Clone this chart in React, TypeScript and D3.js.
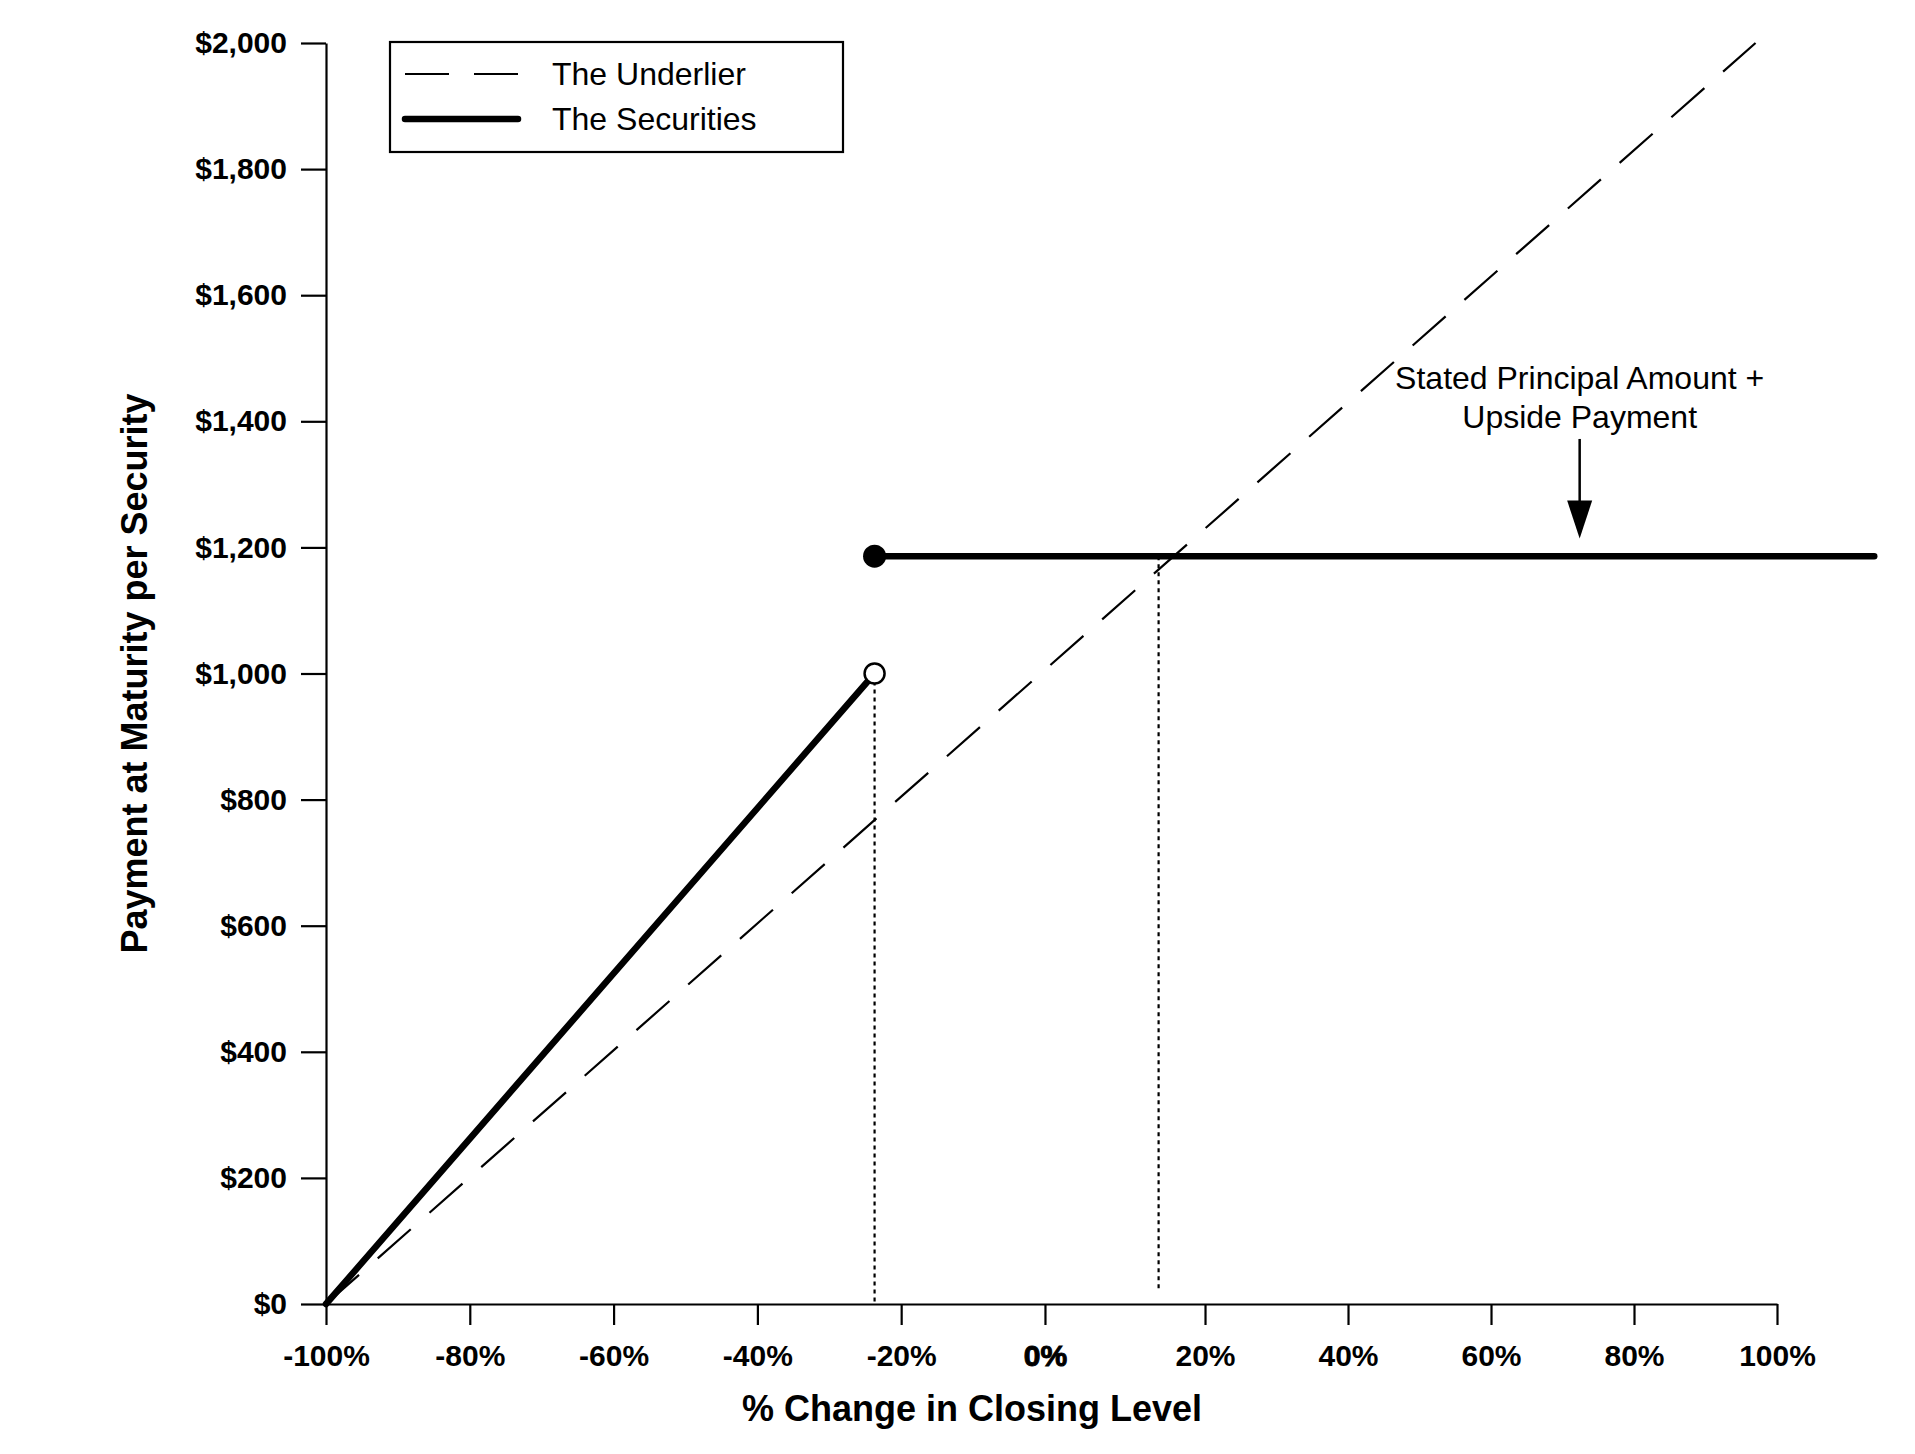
import { useEffect, useRef } from 'react';
import * as d3 from 'd3';

// tick values
const X_TICKS = [-100, -80, -60, -40, -20, 0, 20, 40, 60, 80, 100];
const Y_TICKS = [0, 200, 400, 600, 800, 1000, 1200, 1400, 1600, 1800, 2000];

// the axis in the source is not evenly spaced: the 0% -> 20% step is wider
const X_BREAKS = [-100, 0, 20, 100];
const X_BREAK_FRAC = [0, 0.4955, 0.6058, 1];

// series (x in %, y in $)
const UNDERLIER_X = [-100, 97];
const UNDERLIER_Y = [0, 2000];
const SEC_LOW_X = [-100, -23.7];
const SEC_LOW_Y = [0, 1000];
const SEC_HIGH_X = [-23.7, 113.6];
const SEC_HIGH_Y = [1186, 1186];

// dotted guides
const GUIDE_X = [-23.7, 14.2];
const GUIDE_TOP = [1000, 1186];
const GUIDE_BOTTOM = [0, 20];

const LEGEND_LABELS = ['The Underlier', 'The Securities'];
const NOTE_LINES = ['Stated Principal Amount +', 'Upside Payment'];
const NOTE_X = 72.4;
const NOTE_Y = [1451, 1389];
const NOTE_ARROW = [1372, 1214];

const FONT = '"Liberation Sans", Arial, Helvetica, sans-serif';

export default function App() {
  const svgRef = useRef<SVGSVGElement>(null);

  useEffect(() => {
    document.body.style.margin = '0';
    if (!svgRef.current) return;

    const W = 1915, H = 1454;
    const L = 326, R = 1777, T = 43, B = 1304;
    const svg = d3.select(svgRef.current);
    svg.selectAll('*').remove();
    svg.attr('viewBox', `0 0 ${W} ${H}`).attr('width', W).attr('height', H);

    const x = d3.scaleLinear()
      .domain(X_BREAKS)
      .range(X_BREAK_FRAC.map(f => L + f * (R - L)));
    const y = d3.scaleLinear().domain([0, 2000]).range([B, T]);

    svg.append('rect').attr('width', W).attr('height', H).attr('fill', '#fff');

    // axes
    const yAxis = svg.append('g')
      .attr('transform', `translate(${L},0)`)
      .call(d3.axisLeft(y).tickValues(Y_TICKS).tickSize(25).tickSizeOuter(0).tickPadding(14)
        .tickFormat(d => '$' + d3.format(',')(d as number)));
    const xAxis = svg.append('g')
      .attr('transform', `translate(0,${B})`)
      .call(d3.axisBottom(x).tickValues(X_TICKS).tickSize(21).tickSizeOuter(0).tickPadding(20)
        .tickFormat(d => `${d}%`));

    [yAxis, xAxis].forEach(a => {
      a.selectAll('path, line').attr('stroke', '#000').attr('stroke-width', 2.2);
      a.selectAll('text')
        .attr('fill', '#000')
        .attr('font-family', FONT)
        .attr('font-weight', 700)
        .attr('font-size', 30);
    });
    xAxis.selectAll<SVGTextElement, number>('text')
      .filter(d => d === 0)
      .attr('stroke', '#000').attr('stroke-width', 1);

    // axis titles
    svg.append('text')
      .attr('x', 972).attr('y', 1421)
      .attr('text-anchor', 'middle')
      .attr('font-family', FONT).attr('font-weight', 700).attr('font-size', 36)
      .text('% Change in Closing Level');
    svg.append('text')
      .attr('transform', `translate(134,${(T + B) / 2}) rotate(-90)`)
      .attr('text-anchor', 'middle').attr('dy', '0.36em')
      .attr('font-family', FONT).attr('font-weight', 700).attr('font-size', 36)
      .text('Payment at Maturity per Security');

    const line = d3.line<[number, number]>().x(d => x(d[0])).y(d => y(d[1]));
    const pts = (xs: number[], ys: number[]) => xs.map((v, i) => [v, ys[i]] as [number, number]);

    // dotted guides
    GUIDE_X.forEach((gx, i) => {
      svg.append('path')
        .attr('d', line([[gx, GUIDE_TOP[i]], [gx, GUIDE_BOTTOM[i]]]))
        .attr('fill', 'none').attr('stroke', '#000')
        .attr('stroke-width', 2.2).attr('stroke-dasharray', '4 4');
    });

    // underlier
    svg.append('path')
      .attr('d', line(pts(UNDERLIER_X, UNDERLIER_Y)))
      .attr('fill', 'none').attr('stroke', '#000')
      .attr('stroke-width', 2.2).attr('stroke-dasharray', '44 25');

    // securities
    [pts(SEC_LOW_X, SEC_LOW_Y), pts(SEC_HIGH_X, SEC_HIGH_Y)].forEach(p => {
      svg.append('path')
        .attr('d', line(p))
        .attr('fill', 'none').attr('stroke', '#000')
        .attr('stroke-width', 6.5).attr('stroke-linecap', 'round');
    });
    svg.append('circle')
      .attr('cx', x(SEC_HIGH_X[0])).attr('cy', y(SEC_HIGH_Y[0])).attr('r', 11.5)
      .attr('fill', '#000');
    svg.append('circle')
      .attr('cx', x(SEC_LOW_X[1])).attr('cy', y(SEC_LOW_Y[1])).attr('r', 10)
      .attr('fill', '#fff').attr('stroke', '#000').attr('stroke-width', 2.5);

    // annotation
    const nx = x(NOTE_X);
    NOTE_LINES.forEach((t, i) => {
      svg.append('text')
        .attr('x', nx).attr('y', y(NOTE_Y[i]))
        .attr('text-anchor', 'middle')
        .attr('font-family', FONT).attr('font-size', 32)
        .text(t);
    });
    const a0 = y(NOTE_ARROW[0]), a1 = y(NOTE_ARROW[1]);
    svg.append('line')
      .attr('x1', nx).attr('x2', nx).attr('y1', a0).attr('y2', a1 - 30)
      .attr('stroke', '#000').attr('stroke-width', 2.5);
    svg.append('path')
      .attr('d', `M${nx - 12.5},${a1 - 38}L${nx + 12.5},${a1 - 38}L${nx},${a1}Z`)
      .attr('fill', '#000');

    // legend
    const lg = svg.append('g');
    lg.append('rect')
      .attr('x', 390).attr('y', 42).attr('width', 453).attr('height', 110)
      .attr('fill', '#fff').attr('stroke', '#000').attr('stroke-width', 2.2);
    const rows = [
      { y: 74, dash: '44 25', w: 2.2 },
      { y: 119, dash: null, w: 6.5 },
    ];
    rows.forEach((r, i) => {
      lg.append('line')
        .attr('x1', 405).attr('x2', 518).attr('y1', r.y).attr('y2', r.y)
        .attr('stroke', '#000').attr('stroke-width', r.w)
        .attr('stroke-dasharray', r.dash)
        .attr('stroke-linecap', r.dash ? 'butt' : 'round');
      lg.append('text')
        .attr('x', 552).attr('y', r.y + 11)
        .attr('font-family', FONT).attr('font-size', 32)
        .text(LEGEND_LABELS[i]);
    });
  }, []);

  return <svg ref={svgRef} style={{ display: 'block' }} />;
}
